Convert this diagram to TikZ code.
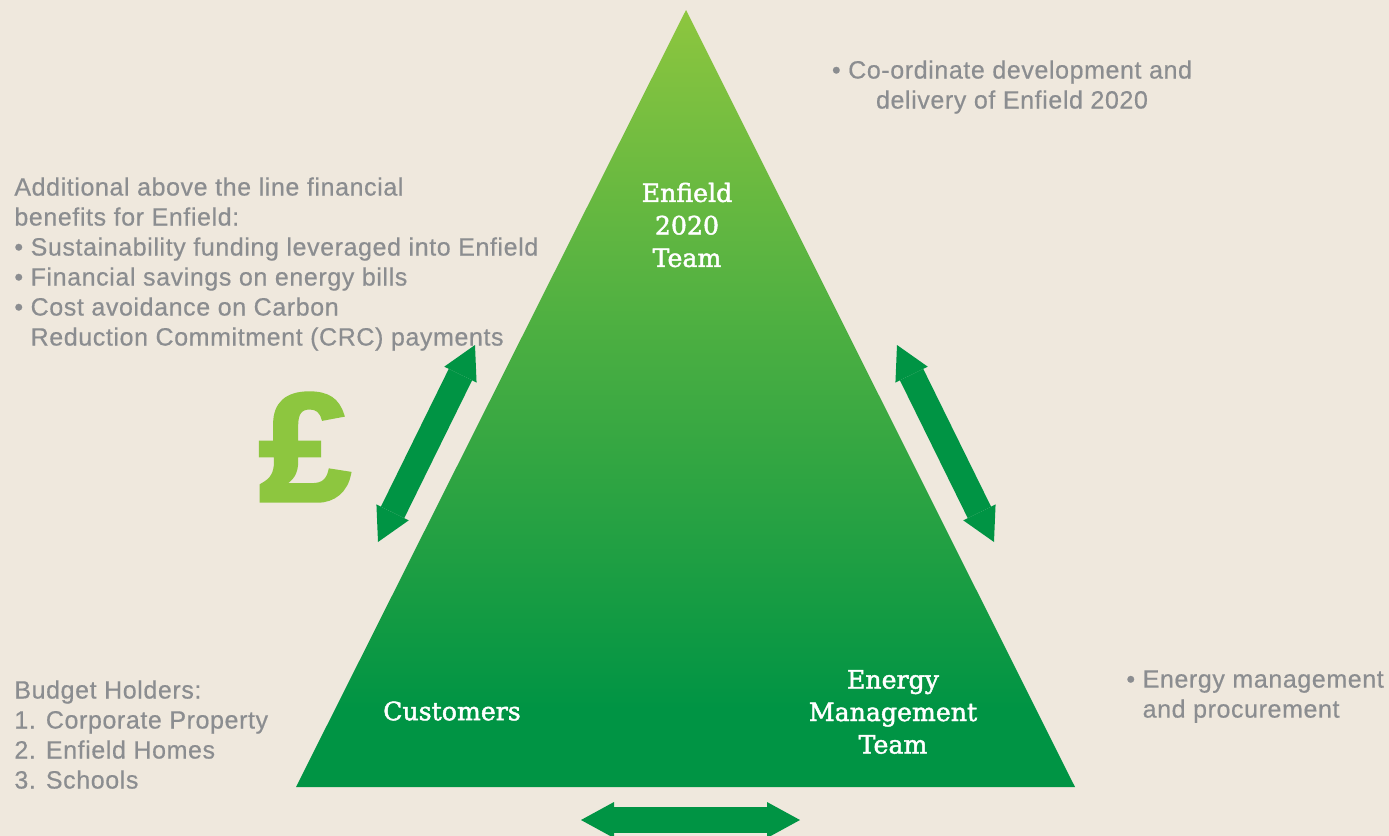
\documentclass[tikz,border=0pt]{standalone}
\usepackage{fontspec}
\usepackage{xcolor}
\usepackage{graphicx}
\usepackage{tikz}
\usetikzlibrary{arrows.meta}

\newfontfamily\notefont{Liberation Sans}[LetterSpace=2.4,FakeBold=0.5]
\newfontfamily\teamfont{DejaVu Serif}[FakeBold=1.8]
\newfontfamily\poundfont{Liberation Sans Bold}[FakeBold=2.5]

\definecolor{paper}{HTML}{EFE8DD}
\definecolor{notegray}{HTML}{8B8D90}
\definecolor{leafgreen}{HTML}{8DC63F}
\definecolor{deepgreen}{HTML}{009444}

\pgfdeclareverticalshading{pyramid}{100bp}{color(0bp)=(deepgreen); color(30bp)=(deepgreen); color(75bp)=(leafgreen); color(100bp)=(leafgreen)}

\begin{document}
\begin{tikzpicture}[x=0.5pt,y=0.5pt,yscale=-1,xscale=1,
  note/.style={anchor=north west,inner sep=0pt,align=left,text=notegray,font=\notefont\fontsize{12.5}{15}\selectfont},
  team/.style={inner sep=0pt,align=center,text=white,font=\teamfont\fontsize{12.6}{16.25}\selectfont},
  twoway/.style={draw=deepgreen,line width=13pt,{Triangle[length=16.5pt,width=18pt,line width=0pt]}-{Triangle[length=16.5pt,width=18pt,line width=0pt]}}]
\useasboundingbox (0,0) rectangle (1389,836);

%Background
\fill[paper] (0,0) rectangle (1389,836);

%Shape: Triangle
\coordinate (apex) at (686,10);
\coordinate (baseR) at (1075,787);
\coordinate (baseL) at (296,787);
\path[shading=pyramid] (apex) -- (baseR) -- (baseL) -- cycle;

%Double Arrows
\coordinate (leftTop) at (475,345);
\coordinate (leftBot) at (378,542);
\coordinate (rightTop) at (897,345);
\coordinate (rightBot) at (994,542);
\coordinate (baseArrL) at (581,820);
\coordinate (baseArrR) at (800,820);
\draw[twoway] (leftBot) -- (leftTop);
\draw[twoway] (rightTop) -- (rightBot);
\draw[twoway] (baseArrL) -- (baseArrR);

% Text Node
\node[team] (teamTop) at (687,225) {Enfield\\2020\\Team};
% Text Node
\node[team] (teamCust) at (452,711) {Customers};
% Text Node
\node[team] (teamEnergy) at (893,712) {Energy\\Management\\Team};

% Text Node
\node[text=leafgreen,inner sep=0pt,font=\poundfont\fontsize{77}{80}\selectfont] (pound) at (305,447) {\scalebox{1.07}[1]{£}};

% Text Node
\node[note] (benefits) at (14,177) {Additional above the line financial\\benefits for Enfield:\\• Sustainability funding leveraged into Enfield\\• Financial savings on energy bills\\• Cost avoidance on Carbon\\\hphantom{•\ }Reduction Commitment (CRC) payments};
% Text Node
\node[note] (budget) at (14,680) {Budget Holders:\\1. Corporate Property\\2. Enfield Homes\\3. Schools};
% Text Node
\node[note,anchor=north,align=center] (deliver) at (1012,60) {• Co-ordinate development and\\delivery of Enfield 2020};
% Text Node
\node[note] (procure) at (1126,670) {• Energy management\\\hphantom{•\ }and procurement};
\end{tikzpicture}
\end{document}
